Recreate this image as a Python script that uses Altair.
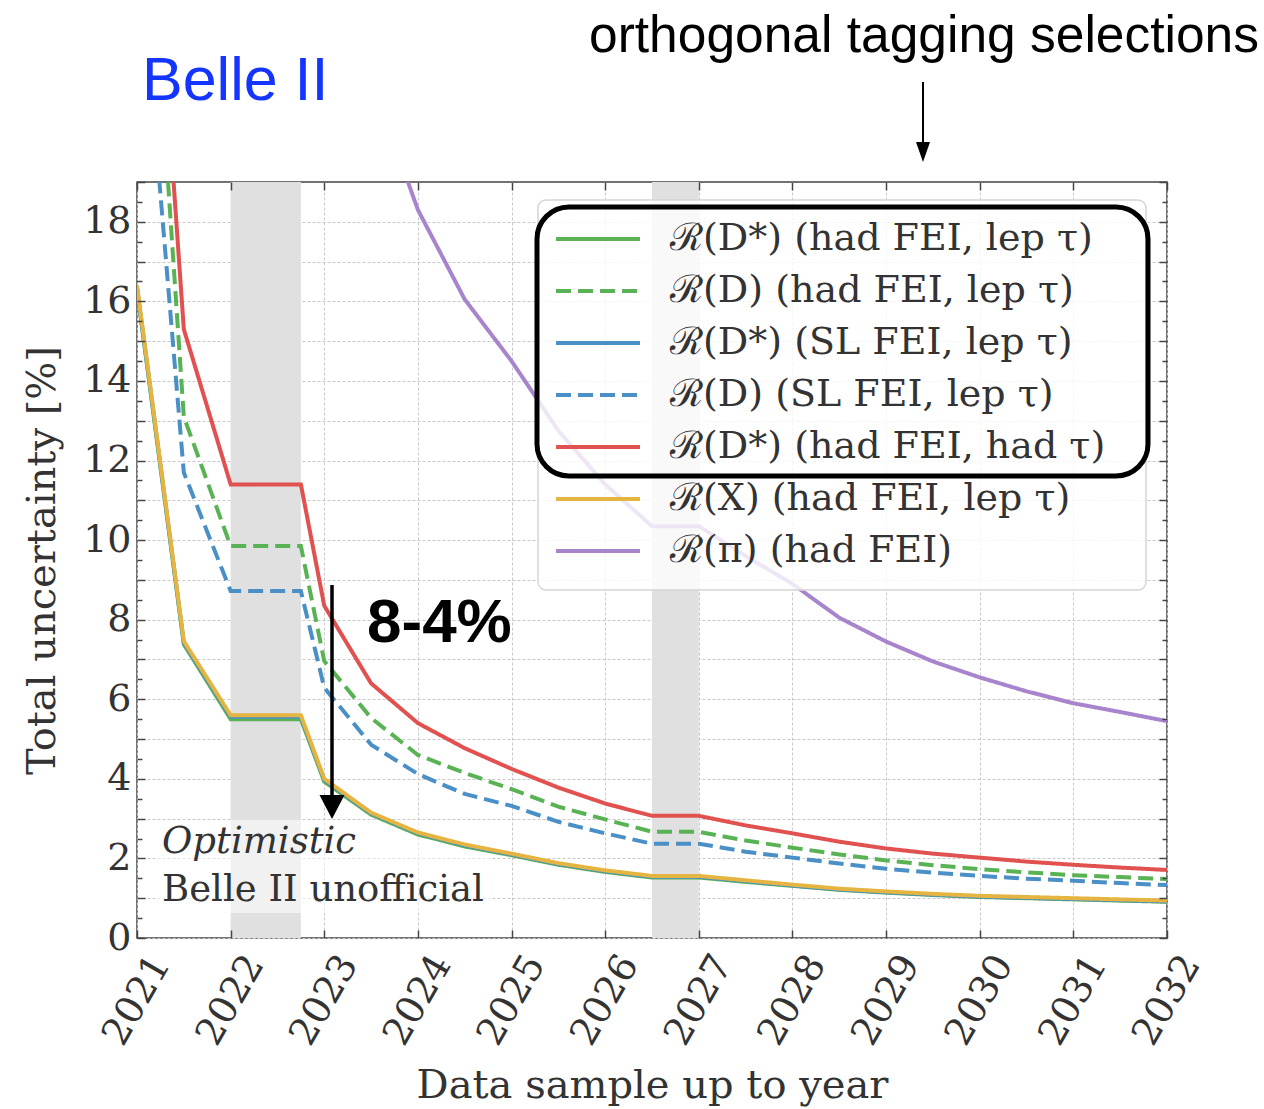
import altair as alt
import pandas as pd

# ---------------- data ----------------
years = [2021, 2021.5, 2022, 2022.75, 2023, 2023.5, 2024, 2024.5, 2025, 2025.5, 2026,
         2026.5, 2027, 2027.5, 2028, 2028.5, 2029, 2029.5, 2030, 2030.5, 2031, 2031.5, 2032]

series_names = [
    "ℛ(D*) (had FEI, lep τ)",
    "ℛ(D) (had FEI, lep τ)",
    "ℛ(D*) (SL FEI, lep τ)",
    "ℛ(D) (SL FEI, lep τ)",
    "ℛ(D*) (had FEI, had τ)",
    "ℛ(X) (had FEI, lep τ)",
    "ℛ(π) (had FEI)",
]

dstar_had_lep = [16.3, 7.38, 5.5, 5.5, 3.93, 3.1, 2.6, 2.3, 2.08, 1.84, 1.66, 1.52, 1.52,
                 1.41, 1.31, 1.21, 1.14, 1.08, 1.03, 1.0, 0.97, 0.94, 0.91]
d_had_lep = [30.6, 13.1, 9.85, 9.85, 6.96, 5.53, 4.6, 4.15, 3.74, 3.3, 2.98, 2.67, 2.67,
             2.45, 2.27, 2.1, 1.95, 1.83, 1.73, 1.65, 1.58, 1.53, 1.48]
dstar_sl_lep = [16.35, 7.42, 5.56, 5.56, 3.97, 3.13, 2.63, 2.33, 2.1, 1.86, 1.68, 1.54, 1.54,
                1.43, 1.32, 1.22, 1.15, 1.09, 1.04, 1.01, 0.98, 0.95, 0.92]
d_sl_lep = [25.7, 11.7, 8.72, 8.72, 6.29, 4.86, 4.12, 3.62, 3.32, 2.92, 2.63, 2.37, 2.37,
            2.17, 2.02, 1.87, 1.74, 1.64, 1.56, 1.49, 1.44, 1.38, 1.33]
dstar_had_had = [32.2, 15.3, 11.4, 11.4, 8.35, 6.4, 5.4, 4.77, 4.25, 3.78, 3.38, 3.07, 3.07,
                 2.83, 2.63, 2.42, 2.25, 2.12, 2.02, 1.92, 1.84, 1.77, 1.71]
x_had_lep = [16.4, 7.46, 5.6, 5.6, 4.0, 3.15, 2.65, 2.35, 2.12, 1.88, 1.7, 1.56, 1.56,
             1.45, 1.34, 1.24, 1.17, 1.11, 1.06, 1.03, 1.0, 0.97, 0.94]
pi_had = [60.0, 45.0, 38.0, 38.0, 28.0, 21.6, 18.3, 16.05, 14.5, 12.75, 11.4, 10.35, 10.35,
          9.6, 8.9, 8.05, 7.45, 6.95, 6.55, 6.2, 5.9, 5.68, 5.45]

series_values = [dstar_had_lep, d_had_lep, dstar_sl_lep, d_sl_lep,
                 dstar_had_had, x_had_lep, pi_had]

band_start = [2022.0, 2026.5]
band_end = [2022.75, 2027.0]

x_tick_years = list(range(2021, 2033))

colors = ["#59b354", "#59b354", "#4a8fc6", "#4a8fc6", "#e0514f", "#e6b441", "#a884cc"]
dashes = [[1, 0], [15, 7], [1, 0], [15, 7], [1, 0], [1, 0], [1, 0]]

rows = []
for name, vals in zip(series_names, series_values):
    for yr, v in zip(years, vals):
        rows.append({"year": yr, "value": v, "series": name})
df = pd.DataFrame(rows)
band_df = pd.DataFrame({"start": band_start, "end": band_end})
one = pd.DataFrame({"k": [0]})

# ---------------- layout ----------------
W, H = 1030, 756
SERIF = "DejaVu Serif"
SANS = "Liberation Sans"
TXT = "#333333"

xs = alt.Scale(domain=[2021, 2032], nice=False, zero=False)
ys = alt.Scale(domain=[0, 19], nice=False, zero=True)

legend = alt.Legend(
    title=None, orient="none", legendX=401, legendY=18,
    symbolType="M-1,0H3", symbolSize=1764, symbolStrokeWidth=4,
    labelFont=SERIF, labelFontSize=38, labelColor=TXT, labelLimit=900,
    labelOffset=70, rowPadding=10, padding=16,
)

bands = alt.Chart(band_df).mark_rect(color="#e0e0e0").encode(
    x=alt.X("start:Q", scale=xs, axis=None),
    x2="end:Q",
    y=alt.value(0),
    y2=alt.value(H),
)

text_box = alt.Chart(one).mark_rect(fill="white", fillOpacity=0.55).encode(
    x=alt.value(18), x2=alt.value(353), y=alt.value(638), y2=alt.value(731)
)

x_main_axis = alt.Axis(
    values=x_tick_years, format="d", labelAngle=300, labelAlign="center",
    labelBaseline="middle", labelPadding=62, ticks=False, tickSize=0, domain=False,
    grid=True, gridColor="#c8c8c8", gridDash=[3, 2], gridWidth=1,
    labelFont=SERIF, labelFontSize=38, labelColor=TXT, labelOverlap=False, labelFlush=False,
    title="Data sample up to year", titleFont=SERIF, titleFontSize=40,
    titleFontWeight="normal", titleColor=TXT, titlePadding=14,
)
y_main_axis = alt.Axis(
    values=list(range(0, 19)), labelExpr="datum.value % 2 == 0 ? datum.label : ''",
    labelPadding=6, ticks=False, tickSize=0, domain=False,
    grid=True, gridColor="#c8c8c8", gridDash=[3, 2], gridWidth=1,
    labelFont=SERIF, labelFontSize=38, labelColor=TXT, labelOverlap=False, labelFlush=False,
    title="Total uncertainty [%]", titleFont=SERIF, titleFontSize=40,
    titleFontWeight="normal", titleColor=TXT, titlePadding=20,
)

lines = alt.Chart(df).mark_line(strokeWidth=4, clip=True).encode(
    x=alt.X("year:Q", scale=xs, axis=x_main_axis),
    y=alt.Y("value:Q", scale=ys, axis=y_main_axis),
    color=alt.Color("series:N", scale=alt.Scale(domain=series_names, range=colors), legend=legend),
    strokeDash=alt.StrokeDash("series:N", scale=alt.Scale(domain=series_names, range=dashes), legend=legend),
    order=alt.Order("year:Q"),
)


def tick_axis(orient, offset, values, size):
    return alt.Axis(orient=orient, offset=offset, values=values, tickSize=size,
                    ticks=True, labels=False, domain=False, grid=False, title=None,
                    tickColor="#444444", tickWidth=1.5, zindex=1)


y_major = list(range(0, 20))
y_minor = [v + 0.5 for v in range(0, 19)]


def tick_layer(xaxis, yaxis):
    return alt.Chart(df).mark_point(opacity=0).encode(
        x=alt.X("year:Q", scale=xs, axis=xaxis),
        y=alt.Y("value:Q", scale=ys, axis=yaxis),
    )


t1 = tick_layer(tick_axis("bottom", -H, x_tick_years, 8), tick_axis("right", -W, y_major, 8))
t2 = tick_layer(tick_axis("top", -H, x_tick_years, 8), tick_axis("right", -W, y_minor, 5))
t3 = tick_layer(None, tick_axis("left", -W, y_major, 8))
t4 = tick_layer(None, tick_axis("left", -W, y_minor, 5))

legend_bg = alt.Chart(one).mark_rect(
    fill="white", fillOpacity=0.8, stroke="#d5d5d5", strokeWidth=1.5, cornerRadius=8
).encode(x=alt.value(401), x2=alt.value(1009), y=alt.value(18), y2=alt.value(408))

black_box = alt.Chart(one).mark_rect(
    fill="white", fillOpacity=0, stroke="black", strokeWidth=5, cornerRadius=32
).encode(x=alt.value(400), x2=alt.value(1011), y=alt.value(25), y2=alt.value(294))


def label(text, x, y, **kw):
    return alt.Chart(one).mark_text(text=text, **kw).encode(x=alt.value(x), y=alt.value(y))


belle = label("Belle II", 5, -82, align="left", baseline="alphabetic", font=SANS,
              fontSize=61, color="#1434ff")
ortho = label("orthogonal tagging selections", 787, -130, align="center",
              baseline="alphabetic", font=SANS, fontSize=51.5, color="black")
pct = label("8-4%", 230, 460, align="left", baseline="alphabetic", font=SANS,
            fontSize=62, fontWeight="bold", color="black")
opt = label("Optimistic", 25, 671, align="left", baseline="alphabetic", font=SERIF,
            fontSize=37, fontStyle="italic", color=TXT)
unoff = label("Belle II unofficial", 25, 719, align="left", baseline="alphabetic",
              font=SERIF, fontSize=37, color=TXT)

small_shaft = alt.Chart(one).mark_rule(color="black", strokeWidth=2).encode(
    x=alt.value(786), y=alt.value(-100), y2=alt.value(-36))
small_head = alt.Chart(one).mark_point(
    shape="M-0.35,-0.5L0.35,-0.5L0,0.5Z", size=1600, filled=True, color="black", opacity=1
).encode(x=alt.value(786), y=alt.value(-30))

big_shaft = alt.Chart(one).mark_rule(color="black", strokeWidth=3.5).encode(
    x=alt.value(195), y=alt.value(403), y2=alt.value(618))
big_head = alt.Chart(one).mark_point(
    shape="M-0.5,-0.48L0.5,-0.48L0,0.48Z", size=2500, filled=True, color="black", opacity=1
).encode(x=alt.value(195), y=alt.value(625))

chart = alt.layer(
    bands, text_box, lines, t1, t2, t3, t4, legend_bg, black_box,
    belle, ortho, pct, opt, unoff, small_shaft, small_head, big_shaft, big_head,
).resolve_axis(x="independent", y="independent").properties(
    width=W, height=H,
    autosize=alt.AutoSizeParams(type="none"),
    padding={"left": 137, "top": 182, "right": 97, "bottom": 171},
    background="white",
).configure_view(stroke="#444444", strokeWidth=1.5)

chart.save("out.html", embed_options={"renderer": "svg", "actions": False})
